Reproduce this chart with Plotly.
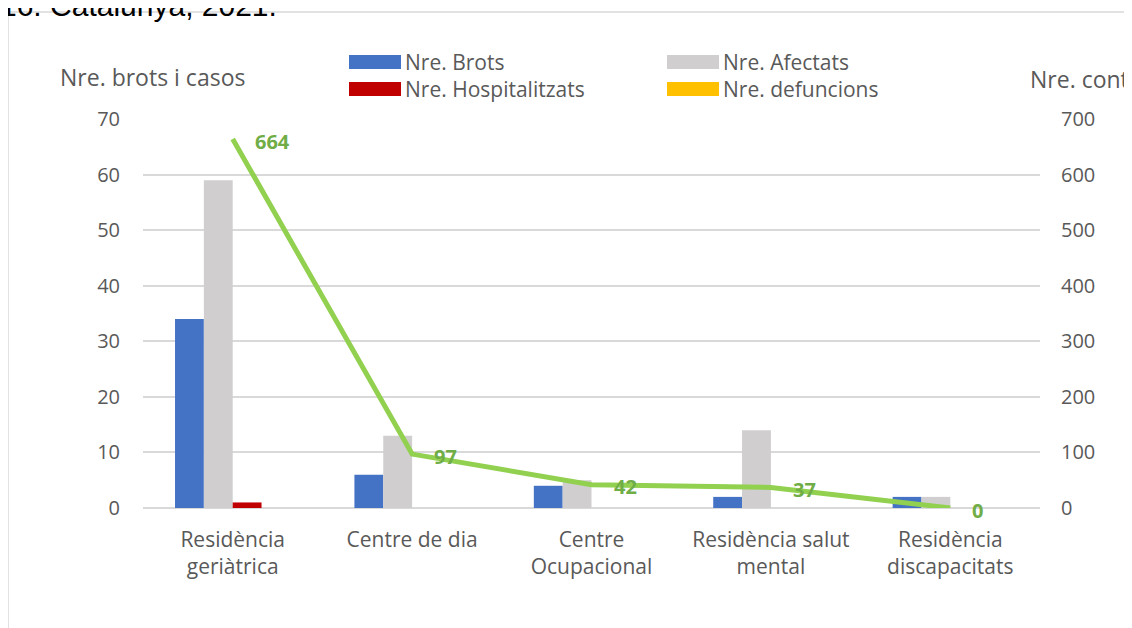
import plotly.graph_objects as go

categories = ["Residència<br>geriàtrica", "Centre de dia", "Centre<br>Ocupacional",
              "Residència salut<br>mental", "Residència<br>discapacitats"]
brots = [34, 6, 4, 2, 2]
afectats = [59, 13, 5, 14, 2]
hospitalitzats = [1, 0, 0, 0, 0]
defuncions = [0, 0, 0, 0, 0]
contactes = [664, 97, 42, 37, 0]

left_ticks = [0, 10, 20, 30, 40, 50, 60, 70]
right_ticks = [0, 100, 200, 300, 400, 500, 600, 700]

FONT = "Open Sans"
GRAY = "#595959"

# plot area in reference pixel coordinates
PL, PR, PT, PB = 143, 1040, 119, 508
PW, PH = PR - PL, PB - PT
OFF = 8  # page body margin
RSHIFT = 20  # extra room between plot edge and right axis labels
FULLW = PW + RSHIFT
XDOM = PW / FULLW


def px(x):
    return (x - PL) / FULLW


def py(y):
    return (PB - y) / PH


fig = go.Figure()
bar_series = [
    ("Nre. Brots", brots, "#4472C4"),
    ("Nre. Afectats", afectats, "#D0CECE"),
    ("Nre. Hospitalitzats", hospitalitzats, "#C00000"),
    ("Nre. defuncions", defuncions, "#FFC000"),
]
for name, vals, color in bar_series:
    fig.add_trace(go.Bar(x=categories, y=vals, name=name, marker_color=color,
                         marker_line_width=0, showlegend=False, yaxis="y"))

fig.add_trace(go.Scatter(x=categories, y=contactes, yaxis="y2", mode="lines",
                         line=dict(color="#92D050", width=5),
                         showlegend=False, cliponaxis=False, name="Nre. contactes"))

for c, v in zip(categories, contactes):
    fig.add_annotation(x=c, y=v, xref="x", yref="y2", text=str(v), showarrow=False,
                       xanchor="left", yanchor="middle", xshift=20, yshift=-2,
                       font=dict(family=FONT, size=20, color="#70AD47", weight="bold"))

fig.update_layout(
    width=1132, height=628,
    margin=dict(l=PL - OFF, r=1132 - (PL - OFF) - FULLW, t=PT - OFF, b=628 - (PB - OFF)),
    paper_bgcolor="white", plot_bgcolor="white",
    font=dict(family=FONT, size=20, color=GRAY),
    barmode="group", bargap=0.357, bargroupgap=0,
    xaxis=dict(domain=[0, XDOM], showgrid=False, ticks="",
               tickfont=dict(size=21, color=GRAY),
               showline=False, ticklabelstandoff=17),
    yaxis=dict(range=[0, 70], tickvals=left_ticks, gridcolor="#D9D9D9", gridwidth=1.5,
               zeroline=True, zerolinecolor="#D9D9D9", zerolinewidth=1.5,
               ticks="", ticklabelstandoff=22, tickfont=dict(size=20, color=GRAY)),
    yaxis2=dict(range=[0, 700], tickvals=right_ticks, overlaying="y", side="right",
                anchor="free", position=1,
                showgrid=False, zeroline=False, showline=False, ticks="",
                tickfont=dict(size=20, color=GRAY)),
    showlegend=False,
)

# manual legend (2 x 2)
legend_items = [
    ("Nre. Brots", "#4472C4", 349, 62),
    ("Nre. Afectats", "#D0CECE", 667, 62),
    ("Nre. Hospitalitzats", "#C00000", 349, 89),
    ("Nre. defuncions", "#FFC000", 667, 89),
]
for name, color, lx, ly in legend_items:
    fig.add_shape(type="rect", xref="paper", yref="paper",
                  x0=px(lx), x1=px(lx + 52), y0=py(ly + 7), y1=py(ly - 7),
                  line=dict(width=0), fillcolor=color)
    fig.add_annotation(text=name, xref="paper", yref="paper", x=px(lx + 54), y=py(ly),
                       xanchor="left", yanchor="middle", showarrow=False,
                       font=dict(size=21, color=GRAY))

# axis titles
fig.add_annotation(text="Nre. brots i casos", xref="paper", yref="paper",
                   x=px(58), y=py(77), xanchor="left", yanchor="middle",
                   showarrow=False, font=dict(size=23, color=GRAY))
fig.add_annotation(text="Nre. contactes", xref="paper", yref="paper",
                   x=px(1028), y=py(79), xanchor="left", yanchor="middle",
                   showarrow=False, font=dict(size=23, color=GRAY))
# cut-off caption above the frame
fig.add_annotation(text="16. Catalunya, 2021.", xref="paper", yref="paper",
                   x=px(-2), y=py(24), xanchor="left", yanchor="bottom",
                   showarrow=False, font=dict(family="Liberation Sans", size=30, color="#000000"))
# frame
fig.add_shape(type="rect", xref="paper", yref="paper",
              x0=px(8), x1=px(1160), y0=py(660), y1=py(12),
              line=dict(color="#D9D9D9", width=1.5), fillcolor="rgba(0,0,0,0)", layer="below")

fig.write_html("out.html")
